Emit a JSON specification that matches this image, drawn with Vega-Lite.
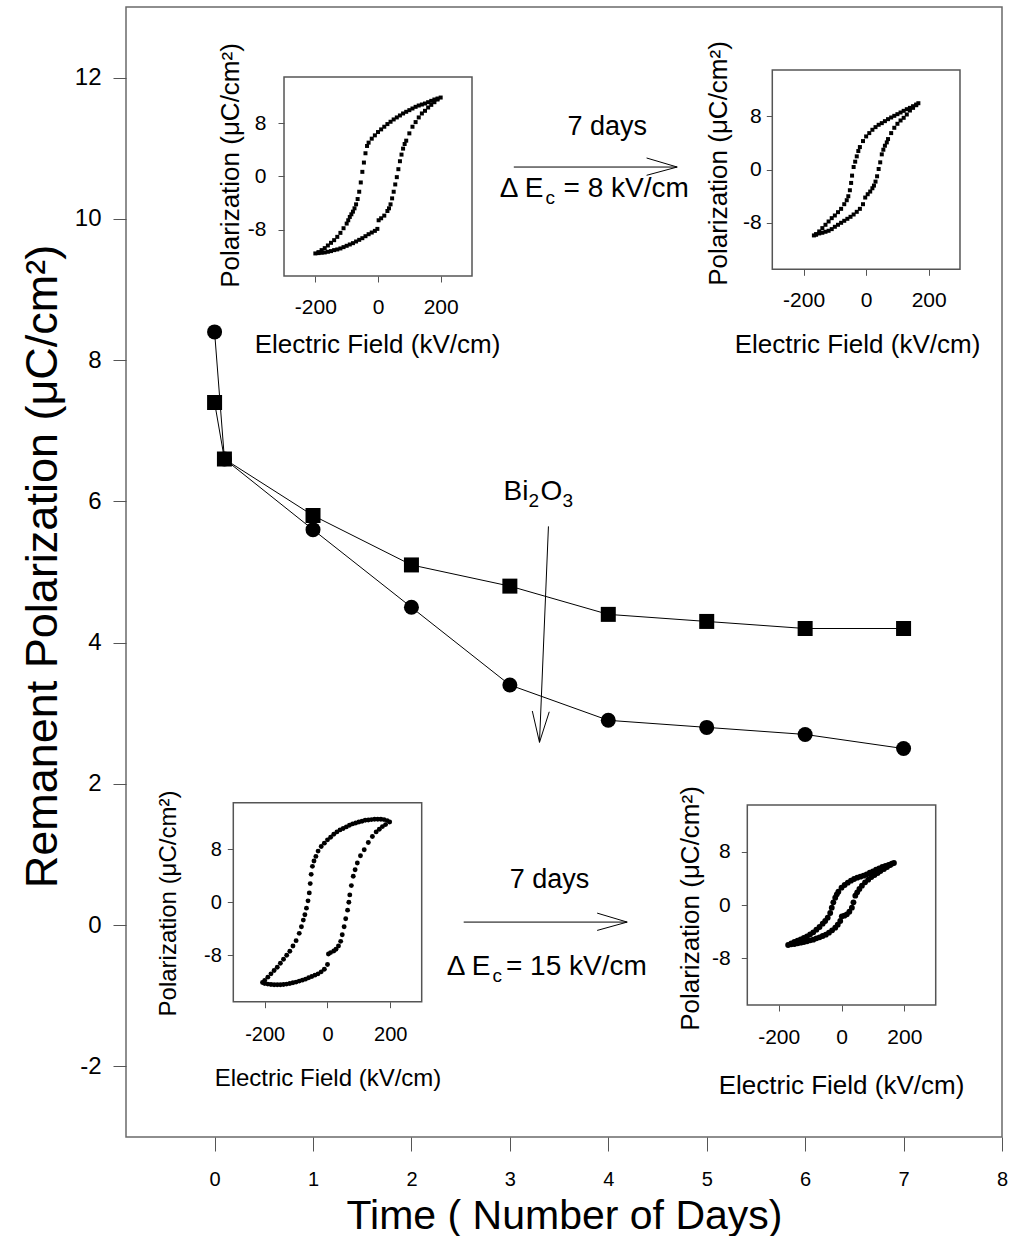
{
  "$schema": "https://vega.github.io/schema/vega-lite/v6.json",
  "width": 876,
  "height": 1130,
  "autosize": "none",
  "padding": {"left": 126, "top": 7, "right": 11, "bottom": 99},
  "background": "white",
  "config": {
    "view": {"stroke": "#6a6a6a", "strokeWidth": 1.5},
    "font": "Liberation Sans",
    "axis": {"grid": false, "domain": false, "tickColor": "#555", "tickWidth": 1, "labelColor": "#000", "titleColor": "#000", "titleFontWeight": "normal", "labelFont": "Liberation Sans", "titleFont": "Liberation Sans", "labelFlush": false, "labelExpr": "datum.value < 0 ? '-' + abs(datum.value) : '' + datum.value"},
    "text": {"font": "Liberation Sans", "color": "#000"}
  },
  "datasets": {
    "main": [
      {"t": 0, "P": 7.4, "s": "sq"}, {"t": 0.1, "P": 6.6, "s": "sq"}, {"t": 1, "P": 5.8, "s": "sq"}, {"t": 2, "P": 5.1, "s": "sq"}, {"t": 3, "P": 4.8, "s": "sq"}, {"t": 4, "P": 4.4, "s": "sq"}, {"t": 5, "P": 4.3, "s": "sq"}, {"t": 6, "P": 4.2, "s": "sq"}, {"t": 7, "P": 4.2, "s": "sq"},
      {"t": 0, "P": 8.4, "s": "ci"}, {"t": 0.1, "P": 6.6, "s": "ci"}, {"t": 1, "P": 5.6, "s": "ci"}, {"t": 2, "P": 4.5, "s": "ci"}, {"t": 3, "P": 3.4, "s": "ci"}, {"t": 4, "P": 2.9, "s": "ci"}, {"t": 5, "P": 2.8, "s": "ci"}, {"t": 6, "P": 2.7, "s": "ci"}, {"t": 7, "P": 2.5, "s": "ci"}
    ],
    "arrows": [
      {"x1": 3.04, "x2": 4.70, "y1": 10.734, "y2": 10.734},
      {"x1": 4.389, "x2": 4.70, "y1": 10.862, "y2": 10.734},
      {"x1": 4.389, "x2": 4.70, "y1": 10.617, "y2": 10.734},
      {"x1": 2.531, "x2": 4.192, "y1": 0.043, "y2": 0.043},
      {"x1": 3.887, "x2": 4.192, "y1": 0.170, "y2": 0.043},
      {"x1": 3.887, "x2": 4.192, "y1": -0.075, "y2": 0.043},
      {"x1": 3.392, "x2": 3.301, "y1": 5.646, "y2": 2.588},
      {"x1": 3.228, "x2": 3.301, "y1": 3.032, "y2": 2.588},
      {"x1": 3.400, "x2": 3.301, "y1": 3.021, "y2": 2.588}
    ],
    "notes": [
      {"x": 3.99, "y": 11.19, "label": "7 days", "k": "c"},
      {"x": 3.402, "y": 0.525, "label": "7 days", "k": "c"},
      {"x": 3.341, "y": 10.309, "label": "Δ E", "k": "r"},
      {"x": 3.362, "y": 10.21, "label": "c", "k": "s"},
      {"x": 3.545, "y": 10.309, "label": "= 8 kV/cm", "k": "l"},
      {"x": 2.803, "y": -0.705, "label": "Δ E", "k": "r"},
      {"x": 2.823, "y": -0.80, "label": "c", "k": "s"},
      {"x": 2.96, "y": -0.705, "label": "= 15 kV/cm", "k": "l"},
      {"x": 2.935, "y": 6.014, "label": "Bi", "k": "l"},
      {"x": 3.189, "y": 5.915, "label": "2", "k": "s"},
      {"x": 3.311, "y": 6.014, "label": "O", "k": "l"},
      {"x": 3.535, "y": 5.915, "label": "3", "k": "s"}
    ],
    "h1": [
      {"E": 200, "P": 11.9}, {"E": 190, "P": 11.75}, {"E": 180, "P": 11.6}, {"E": 170, "P": 11.4}, {"E": 160, "P": 11.2}, {"E": 150, "P": 11.0}, {"E": 140, "P": 10.85}, {"E": 130, "P": 10.7}, {"E": 120, "P": 10.5}, {"E": 110, "P": 10.25}, {"E": 100, "P": 10.0}, {"E": 90, "P": 9.75}, {"E": 80, "P": 9.5}, {"E": 70, "P": 9.2}, {"E": 60, "P": 8.9}, {"E": 50, "P": 8.6}, {"E": 40, "P": 8.25}, {"E": 30, "P": 7.9}, {"E": 20, "P": 7.5}, {"E": 10, "P": 7.1}, {"E": 0, "P": 6.7}, {"E": -10, "P": 6.2}, {"E": -20, "P": 5.7}, {"E": -30, "P": 5.1}, {"E": -35, "P": 4.6}, {"E": -40, "P": 3.5}, {"E": -45, "P": 2.1}, {"E": -50, "P": 0.7}, {"E": -55, "P": -0.9}, {"E": -60, "P": -2.3}, {"E": -65, "P": -3.4}, {"E": -70, "P": -4.2}, {"E": -75, "P": -4.8}, {"E": -80, "P": -5.3}, {"E": -85, "P": -5.7}, {"E": -90, "P": -6.1}, {"E": -95, "P": -6.6}, {"E": -100, "P": -7.1}, {"E": -110, "P": -7.8}, {"E": -120, "P": -8.5}, {"E": -130, "P": -9.1}, {"E": -140, "P": -9.6}, {"E": -150, "P": -10.0}, {"E": -160, "P": -10.4}, {"E": -170, "P": -10.8}, {"E": -180, "P": -11.1}, {"E": -190, "P": -11.4}, {"E": -200, "P": -11.6},
      {"E": -190, "P": -11.55}, {"E": -180, "P": -11.5}, {"E": -170, "P": -11.45}, {"E": -160, "P": -11.35}, {"E": -150, "P": -11.25}, {"E": -140, "P": -11.1}, {"E": -130, "P": -11.0}, {"E": -120, "P": -10.85}, {"E": -110, "P": -10.65}, {"E": -100, "P": -10.45}, {"E": -90, "P": -10.25}, {"E": -80, "P": -10.05}, {"E": -70, "P": -9.8}, {"E": -60, "P": -9.55}, {"E": -50, "P": -9.3}, {"E": -40, "P": -9.0}, {"E": -30, "P": -8.7}, {"E": -20, "P": -8.45}, {"E": -10, "P": -8.2}, {"E": -2, "P": -7.9}, {"E": 2, "P": -6.6}, {"E": 10, "P": -6.3}, {"E": 20, "P": -5.9}, {"E": 30, "P": -5.2}, {"E": 35, "P": -4.8}, {"E": 40, "P": -4.2}, {"E": 45, "P": -3.3}, {"E": 50, "P": -2.3}, {"E": 55, "P": -1.2}, {"E": 60, "P": -0.1}, {"E": 65, "P": 1.1}, {"E": 70, "P": 2.3}, {"E": 75, "P": 3.3}, {"E": 80, "P": 4.2}, {"E": 85, "P": 4.9}, {"E": 90, "P": 5.4}, {"E": 100, "P": 6.5}, {"E": 110, "P": 7.5}, {"E": 120, "P": 8.2}, {"E": 130, "P": 8.9}, {"E": 140, "P": 9.5}, {"E": 150, "P": 9.9}, {"E": 160, "P": 10.4}, {"E": 170, "P": 10.8}, {"E": 180, "P": 11.2}, {"E": 190, "P": 11.6}
    ],
    "h2": [
      {"E": 167, "P": 10.0}, {"E": 160, "P": 9.8}, {"E": 150, "P": 9.55}, {"E": 140, "P": 9.3}, {"E": 130, "P": 9.1}, {"E": 120, "P": 8.85}, {"E": 110, "P": 8.6}, {"E": 100, "P": 8.35}, {"E": 90, "P": 8.1}, {"E": 80, "P": 7.85}, {"E": 70, "P": 7.6}, {"E": 60, "P": 7.3}, {"E": 50, "P": 7.0}, {"E": 40, "P": 6.75}, {"E": 30, "P": 6.4}, {"E": 20, "P": 6.0}, {"E": 10, "P": 5.5}, {"E": 0, "P": 5.0}, {"E": -10, "P": 4.3}, {"E": -20, "P": 3.4}, {"E": -25, "P": 2.8}, {"E": -30, "P": 2.0}, {"E": -35, "P": 1.2}, {"E": -40, "P": 0.4}, {"E": -45, "P": -0.9}, {"E": -48, "P": -2.0}, {"E": -52, "P": -3.1}, {"E": -57, "P": -4.0}, {"E": -62, "P": -4.6}, {"E": -70, "P": -5.2}, {"E": -80, "P": -5.9}, {"E": -90, "P": -6.4}, {"E": -100, "P": -6.9}, {"E": -110, "P": -7.3}, {"E": -120, "P": -7.8}, {"E": -130, "P": -8.3}, {"E": -140, "P": -8.8}, {"E": -150, "P": -9.3}, {"E": -160, "P": -9.7}, {"E": -167, "P": -9.9},
      {"E": -160, "P": -9.8}, {"E": -150, "P": -9.6}, {"E": -140, "P": -9.5}, {"E": -130, "P": -9.35}, {"E": -120, "P": -9.2}, {"E": -110, "P": -8.95}, {"E": -100, "P": -8.6}, {"E": -90, "P": -8.3}, {"E": -80, "P": -8.0}, {"E": -70, "P": -7.7}, {"E": -60, "P": -7.4}, {"E": -50, "P": -7.1}, {"E": -40, "P": -6.75}, {"E": -30, "P": -6.35}, {"E": -20, "P": -5.9}, {"E": -10, "P": -5.2}, {"E": -3, "P": -4.2}, {"E": 5, "P": -3.7}, {"E": 13, "P": -3.3}, {"E": 20, "P": -2.8}, {"E": 25, "P": -2.4}, {"E": 30, "P": -1.8}, {"E": 35, "P": -1.0}, {"E": 40, "P": 0.1}, {"E": 45, "P": 1.1}, {"E": 50, "P": 2.3}, {"E": 55, "P": 3.0}, {"E": 60, "P": 3.6}, {"E": 66, "P": 4.1}, {"E": 70, "P": 4.6}, {"E": 80, "P": 5.5}, {"E": 90, "P": 6.3}, {"E": 100, "P": 6.9}, {"E": 110, "P": 7.4}, {"E": 120, "P": 7.8}, {"E": 130, "P": 8.3}, {"E": 140, "P": 8.9}, {"E": 150, "P": 9.3}, {"E": 160, "P": 9.7}
    ],
    "h3": [
      {"E": 198, "P": 12.1}, {"E": 190, "P": 12.3}, {"E": 180, "P": 12.45}, {"E": 170, "P": 12.5}, {"E": 160, "P": 12.5}, {"E": 150, "P": 12.5}, {"E": 140, "P": 12.45}, {"E": 130, "P": 12.4}, {"E": 120, "P": 12.35}, {"E": 110, "P": 12.2}, {"E": 100, "P": 12.1}, {"E": 90, "P": 11.95}, {"E": 80, "P": 11.8}, {"E": 70, "P": 11.6}, {"E": 60, "P": 11.35}, {"E": 50, "P": 11.1}, {"E": 40, "P": 10.9}, {"E": 30, "P": 10.6}, {"E": 20, "P": 10.25}, {"E": 10, "P": 9.8}, {"E": 0, "P": 9.4}, {"E": -10, "P": 8.9}, {"E": -20, "P": 8.4}, {"E": -30, "P": 7.7}, {"E": -37, "P": 6.9}, {"E": -43, "P": 6.2}, {"E": -48, "P": 5.4}, {"E": -52, "P": 4.2}, {"E": -55, "P": 2.8}, {"E": -58, "P": 1.4}, {"E": -62, "P": 0.2}, {"E": -67, "P": -0.9}, {"E": -72, "P": -1.9}, {"E": -77, "P": -2.7}, {"E": -83, "P": -3.7}, {"E": -90, "P": -4.7}, {"E": -100, "P": -5.8}, {"E": -110, "P": -6.6}, {"E": -120, "P": -7.4}, {"E": -130, "P": -8.0}, {"E": -140, "P": -8.6}, {"E": -150, "P": -9.2}, {"E": -160, "P": -9.8}, {"E": -170, "P": -10.3}, {"E": -180, "P": -10.8}, {"E": -190, "P": -11.3}, {"E": -200, "P": -11.8}, {"E": -207, "P": -12.1},
      {"E": -200, "P": -12.25}, {"E": -190, "P": -12.35}, {"E": -180, "P": -12.4}, {"E": -170, "P": -12.45}, {"E": -160, "P": -12.45}, {"E": -150, "P": -12.45}, {"E": -140, "P": -12.4}, {"E": -130, "P": -12.35}, {"E": -120, "P": -12.25}, {"E": -110, "P": -12.15}, {"E": -100, "P": -12.05}, {"E": -90, "P": -11.9}, {"E": -80, "P": -11.75}, {"E": -70, "P": -11.6}, {"E": -60, "P": -11.4}, {"E": -50, "P": -11.2}, {"E": -40, "P": -11.0}, {"E": -30, "P": -10.8}, {"E": -20, "P": -10.5}, {"E": -10, "P": -10.1}, {"E": 0, "P": -9.4}, {"E": 3, "P": -7.8}, {"E": 10, "P": -7.6}, {"E": 20, "P": -7.35}, {"E": 27, "P": -7.1}, {"E": 35, "P": -6.6}, {"E": 42, "P": -5.9}, {"E": 47, "P": -4.9}, {"E": 53, "P": -3.7}, {"E": 58, "P": -2.5}, {"E": 64, "P": -1.2}, {"E": 68, "P": 0.0}, {"E": 71, "P": 1.1}, {"E": 76, "P": 2.5}, {"E": 82, "P": 3.9}, {"E": 88, "P": 4.9}, {"E": 95, "P": 5.9}, {"E": 105, "P": 7.0}, {"E": 117, "P": 7.9}, {"E": 130, "P": 9.0}, {"E": 143, "P": 9.9}, {"E": 155, "P": 10.6}, {"E": 165, "P": 11.0}, {"E": 175, "P": 11.4}, {"E": 185, "P": 11.7}
    ],
    "h4": [
      {"E": 167, "P": 6.3}, {"E": 160, "P": 6.2}, {"E": 150, "P": 6.0}, {"E": 140, "P": 5.85}, {"E": 130, "P": 5.7}, {"E": 120, "P": 5.5}, {"E": 110, "P": 5.3}, {"E": 100, "P": 5.05}, {"E": 90, "P": 4.85}, {"E": 80, "P": 4.6}, {"E": 70, "P": 4.4}, {"E": 60, "P": 4.25}, {"E": 50, "P": 4.1}, {"E": 40, "P": 3.9}, {"E": 30, "P": 3.65}, {"E": 20, "P": 3.35}, {"E": 10, "P": 3.0}, {"E": 0, "P": 2.6}, {"E": -10, "P": 2.0}, {"E": -15, "P": 1.6}, {"E": -20, "P": 1.1}, {"E": -26, "P": 0.4}, {"E": -31, "P": -0.4}, {"E": -36, "P": -1.2}, {"E": -44, "P": -1.9}, {"E": -52, "P": -2.4}, {"E": -60, "P": -2.8}, {"E": -70, "P": -3.3}, {"E": -80, "P": -3.7}, {"E": -90, "P": -4.1}, {"E": -100, "P": -4.4}, {"E": -110, "P": -4.7}, {"E": -120, "P": -4.95}, {"E": -130, "P": -5.15}, {"E": -140, "P": -5.35}, {"E": -150, "P": -5.55}, {"E": -160, "P": -5.75}, {"E": -170, "P": -6.0},
      {"E": -160, "P": -5.9}, {"E": -150, "P": -5.85}, {"E": -140, "P": -5.75}, {"E": -130, "P": -5.65}, {"E": -120, "P": -5.55}, {"E": -110, "P": -5.45}, {"E": -100, "P": -5.3}, {"E": -90, "P": -5.2}, {"E": -80, "P": -5.0}, {"E": -70, "P": -4.85}, {"E": -60, "P": -4.65}, {"E": -50, "P": -4.45}, {"E": -40, "P": -4.15}, {"E": -30, "P": -3.8}, {"E": -20, "P": -3.4}, {"E": -12, "P": -2.95}, {"E": -4, "P": -2.4}, {"E": 1, "P": -1.7}, {"E": 9, "P": -1.6}, {"E": 17, "P": -1.4}, {"E": 25, "P": -1.0}, {"E": 33, "P": -0.4}, {"E": 38, "P": 0.4}, {"E": 44, "P": 1.4}, {"E": 50, "P": 1.9}, {"E": 57, "P": 2.4}, {"E": 65, "P": 2.9}, {"E": 75, "P": 3.4}, {"E": 85, "P": 3.8}, {"E": 95, "P": 4.2}, {"E": 105, "P": 4.5}, {"E": 115, "P": 4.8}, {"E": 124, "P": 5.1}, {"E": 135, "P": 5.4}, {"E": 145, "P": 5.7}, {"E": 155, "P": 6.0}
    ]
  },
  "resolve": {"scale": {"x": "independent", "y": "independent"}},
  "layer": [
    {
      "data": {"name": "main"},
      "mark": {"type": "line", "color": "#000", "strokeWidth": 1},
      "encoding": {
        "x": {"field": "t", "type": "quantitative", "scale": {"domain": [-0.9, 8], "nice": false, "zero": false},
          "axis": {"orient": "bottom", "values": [0, 1, 2, 3, 4, 5, 6, 7, 8], "tickSize": 14, "labelPadding": 18, "labelFontSize": 20, "title": "Time ( Number of Days)", "titleFontSize": 41, "titleX": 438, "titleY": 91, "titleBaseline": "alphabetic"}},
        "y": {"field": "P", "type": "quantitative", "scale": {"domain": [-3, 13], "nice": false, "zero": false},
          "axis": {"orient": "left", "values": [-2, 0, 2, 4, 6, 8, 10, 12], "tickSize": 13, "labelPadding": 12, "labelFontSize": 24, "title": "Remanent Polarization (μC/cm²)", "titleFontSize": 45, "titleX": -70, "titleY": 559, "titleBaseline": "alphabetic", "titleAngle": -90}},
        "detail": {"field": "s", "type": "nominal"}
      }
    },
    {
      "data": {"name": "main"},
      "mark": {"type": "point", "filled": true, "color": "#000", "opacity": 1, "size": 225},
      "encoding": {
        "x": {"field": "t", "type": "quantitative", "scale": {"domain": [-0.9, 8], "nice": false, "zero": false}, "axis": null},
        "y": {"field": "P", "type": "quantitative", "scale": {"domain": [-3, 13], "nice": false, "zero": false}, "axis": null},
        "shape": {"field": "s", "type": "nominal", "scale": {"domain": ["sq", "ci"], "range": ["square", "circle"]}, "legend": null}
      }
    },
    {
      "data": {"name": "arrows"},
      "mark": {"type": "rule", "color": "#000", "strokeWidth": 1},
      "encoding": {
        "x": {"field": "x1", "type": "quantitative", "scale": {"domain": [-0.9, 8], "nice": false, "zero": false}, "axis": null},
        "x2": {"field": "x2"},
        "y": {"field": "y1", "type": "quantitative", "scale": {"domain": [-3, 13], "nice": false, "zero": false}, "axis": null},
        "y2": {"field": "y2"}
      }
    },
    {
      "data": {"name": "notes"},
      "transform": [{"filter": "datum.k === 'c'"}],
      "mark": {"type": "text", "align": "center", "baseline": "alphabetic", "fontSize": 27, "color": "#000"},
      "encoding": {
        "x": {"field": "x", "type": "quantitative", "scale": {"domain": [-0.9, 8], "nice": false, "zero": false}, "axis": null},
        "y": {"field": "y", "type": "quantitative", "scale": {"domain": [-3, 13], "nice": false, "zero": false}, "axis": null},
        "text": {"field": "label"}
      }
    },
    {
      "data": {"name": "notes"},
      "transform": [{"filter": "datum.k === 'l'"}],
      "mark": {"type": "text", "align": "left", "baseline": "alphabetic", "fontSize": 28, "color": "#000"},
      "encoding": {
        "x": {"field": "x", "type": "quantitative", "scale": {"domain": [-0.9, 8], "nice": false, "zero": false}, "axis": null},
        "y": {"field": "y", "type": "quantitative", "scale": {"domain": [-3, 13], "nice": false, "zero": false}, "axis": null},
        "text": {"field": "label"}
      }
    },
    {
      "data": {"name": "notes"},
      "transform": [{"filter": "datum.k === 'r'"}],
      "mark": {"type": "text", "align": "right", "baseline": "alphabetic", "fontSize": 28, "color": "#000"},
      "encoding": {
        "x": {"field": "x", "type": "quantitative", "scale": {"domain": [-0.9, 8], "nice": false, "zero": false}, "axis": null},
        "y": {"field": "y", "type": "quantitative", "scale": {"domain": [-3, 13], "nice": false, "zero": false}, "axis": null},
        "text": {"field": "label"}
      }
    },
    {
      "data": {"name": "notes"},
      "transform": [{"filter": "datum.k === 's'"}],
      "mark": {"type": "text", "align": "left", "baseline": "alphabetic", "fontSize": 19, "color": "#000"},
      "encoding": {
        "x": {"field": "x", "type": "quantitative", "scale": {"domain": [-0.9, 8], "nice": false, "zero": false}, "axis": null},
        "y": {"field": "y", "type": "quantitative", "scale": {"domain": [-3, 13], "nice": false, "zero": false}, "axis": null},
        "text": {"field": "label"}
      }
    },
    {
      "data": {"values": [{"E0": -300, "E1": 300, "P0": -15, "P1": 15}]},
      "mark": {"type": "rect", "fill": "transparent", "stroke": "#555", "strokeWidth": 1.5},
      "encoding": {
        "x": {"field": "E0", "type": "quantitative", "scale": {"domain": [-804.3, 1991.5], "nice": false, "zero": false}, "axis": null},
        "x2": {"field": "E1"},
        "y": {"field": "P0", "type": "quantitative", "scale": {"domain": [-144.8, 25.55], "nice": false, "zero": false}, "axis": null},
        "y2": {"field": "P1"}
      }
    },
    {
      "data": {"name": "h1"},
      "mark": {"type": "point", "shape": "square", "filled": true, "color": "#000", "opacity": 1, "size": 16},
      "encoding": {
        "x": {"field": "E", "type": "quantitative", "scale": {"domain": [-804.3, 1991.5], "nice": false, "zero": false},
          "axis": {"orient": "bottom", "offset": -861, "values": [-200, 0, 200], "tickSize": 6, "labelPadding": 14, "labelFontSize": 21, "title": "Electric Field (kV/cm)", "titleFontSize": 26, "titleX": 251, "titleY": 76, "titleBaseline": "alphabetic"}},
        "y": {"field": "P", "type": "quantitative", "scale": {"domain": [-144.8, 25.55], "nice": false, "zero": false},
          "axis": {"orient": "left", "offset": -158, "values": [-8, 0, 8], "tickSize": 6, "labelPadding": 12, "labelFontSize": 21, "title": "Polarization (μC/cm²)", "titleFontSize": 26, "titleX": -46, "titleY": 158, "titleBaseline": "alphabetic", "titleAngle": -90}}
      }
    },
    {
      "data": {"values": [{"E0": -300, "E1": 300, "P0": -15, "P1": 15}]},
      "mark": {"type": "rect", "fill": "transparent", "stroke": "#555", "strokeWidth": 1.5},
      "encoding": {
        "x": {"field": "E0", "type": "quantitative", "scale": {"domain": [-2366, 434.3], "nice": false, "zero": false}, "axis": null},
        "x2": {"field": "E1"},
        "y": {"field": "P0", "type": "quantitative", "scale": {"domain": [-145.6, 24.48], "nice": false, "zero": false}, "axis": null},
        "y2": {"field": "P1"}
      }
    },
    {
      "data": {"name": "h2"},
      "mark": {"type": "point", "shape": "square", "filled": true, "color": "#000", "opacity": 1, "size": 16},
      "encoding": {
        "x": {"field": "E", "type": "quantitative", "scale": {"domain": [-2366, 434.3], "nice": false, "zero": false},
          "axis": {"orient": "bottom", "offset": -867.7, "values": [-200, 0, 200], "tickSize": 6, "labelPadding": 14, "labelFontSize": 21, "title": "Electric Field (kV/cm)", "titleFontSize": 26, "titleX": 731, "titleY": 83, "titleBaseline": "alphabetic"}},
        "y": {"field": "P", "type": "quantitative", "scale": {"domain": [-145.6, 24.48], "nice": false, "zero": false},
          "axis": {"orient": "left", "offset": -646.3, "values": [-8, 0, 8], "tickSize": 6, "labelPadding": 5, "labelFontSize": 21, "title": "Polarization (μC/cm²)", "titleFontSize": 26, "titleX": -46, "titleY": 156, "titleBaseline": "alphabetic", "titleAngle": -90}}
      }
    },
    {
      "data": {"values": [{"E0": -300, "E1": 300, "P0": -15, "P1": 15}]},
      "mark": {"type": "rect", "fill": "transparent", "stroke": "#555", "strokeWidth": 1.5},
      "encoding": {
        "x": {"field": "E0", "type": "quantitative", "scale": {"domain": [-641.7, 2148.1], "nice": false, "zero": false}, "axis": null},
        "x2": {"field": "E1"},
        "y": {"field": "P0", "type": "quantitative", "scale": {"domain": [-35.4, 134.96], "nice": false, "zero": false}, "axis": null},
        "y2": {"field": "P1"}
      }
    },
    {
      "data": {"name": "h3"},
      "mark": {"type": "point", "shape": "circle", "filled": true, "color": "#000", "opacity": 1, "size": 24},
      "encoding": {
        "x": {"field": "E", "type": "quantitative", "scale": {"domain": [-641.7, 2148.1], "nice": false, "zero": false},
          "axis": {"orient": "bottom", "offset": -135.3, "values": [-200, 0, 200], "tickSize": 6, "labelPadding": 17, "labelFontSize": 20, "title": "Electric Field (kV/cm)", "titleFontSize": 24, "titleX": 201.5, "titleY": 83.3, "titleBaseline": "alphabetic"}},
        "y": {"field": "P", "type": "quantitative", "scale": {"domain": [-35.4, 134.96], "nice": false, "zero": false},
          "axis": {"orient": "left", "offset": -107.3, "values": [-8, 0, 8], "tickSize": 6, "labelPadding": 6, "labelFontSize": 20, "title": "Polarization (μC/cm²)", "titleFontSize": 24, "titleX": -58, "titleY": 896, "titleBaseline": "alphabetic", "titleAngle": -90}}
      }
    },
    {
      "data": {"values": [{"E0": -300, "E1": 300, "P0": -15, "P1": 15}]},
      "mark": {"type": "rect", "fill": "transparent", "stroke": "#555", "strokeWidth": 1.5},
      "encoding": {
        "x": {"field": "E0", "type": "quantitative", "scale": {"domain": [-2278.6, 511.1], "nice": false, "zero": false}, "axis": null},
        "x2": {"field": "E1"},
        "y": {"field": "P0", "type": "quantitative", "scale": {"domain": [-34.8, 134.7], "nice": false, "zero": false}, "axis": null},
        "y2": {"field": "P1"}
      }
    },
    {
      "data": {"name": "h4"},
      "mark": {"type": "point", "shape": "circle", "filled": true, "color": "#000", "opacity": 1, "size": 34},
      "encoding": {
        "x": {"field": "E", "type": "quantitative", "scale": {"domain": [-2278.6, 511.1], "nice": false, "zero": false},
          "axis": {"orient": "bottom", "offset": -132, "values": [-200, 0, 200], "tickSize": 6, "labelPadding": 15, "labelFontSize": 21, "title": "Electric Field (kV/cm)", "titleFontSize": 26, "titleX": 715, "titleY": 88, "titleBaseline": "alphabetic"}},
        "y": {"field": "P", "type": "quantitative", "scale": {"domain": [-34.8, 134.7], "nice": false, "zero": false},
          "axis": {"orient": "left", "offset": -621.3, "values": [-8, 0, 8], "tickSize": 6, "labelPadding": 11, "labelFontSize": 21, "title": "Polarization (μC/cm²)", "titleFontSize": 26, "titleX": -49, "titleY": 901, "titleBaseline": "alphabetic", "titleAngle": -90}}
      }
    }
  ]
}
